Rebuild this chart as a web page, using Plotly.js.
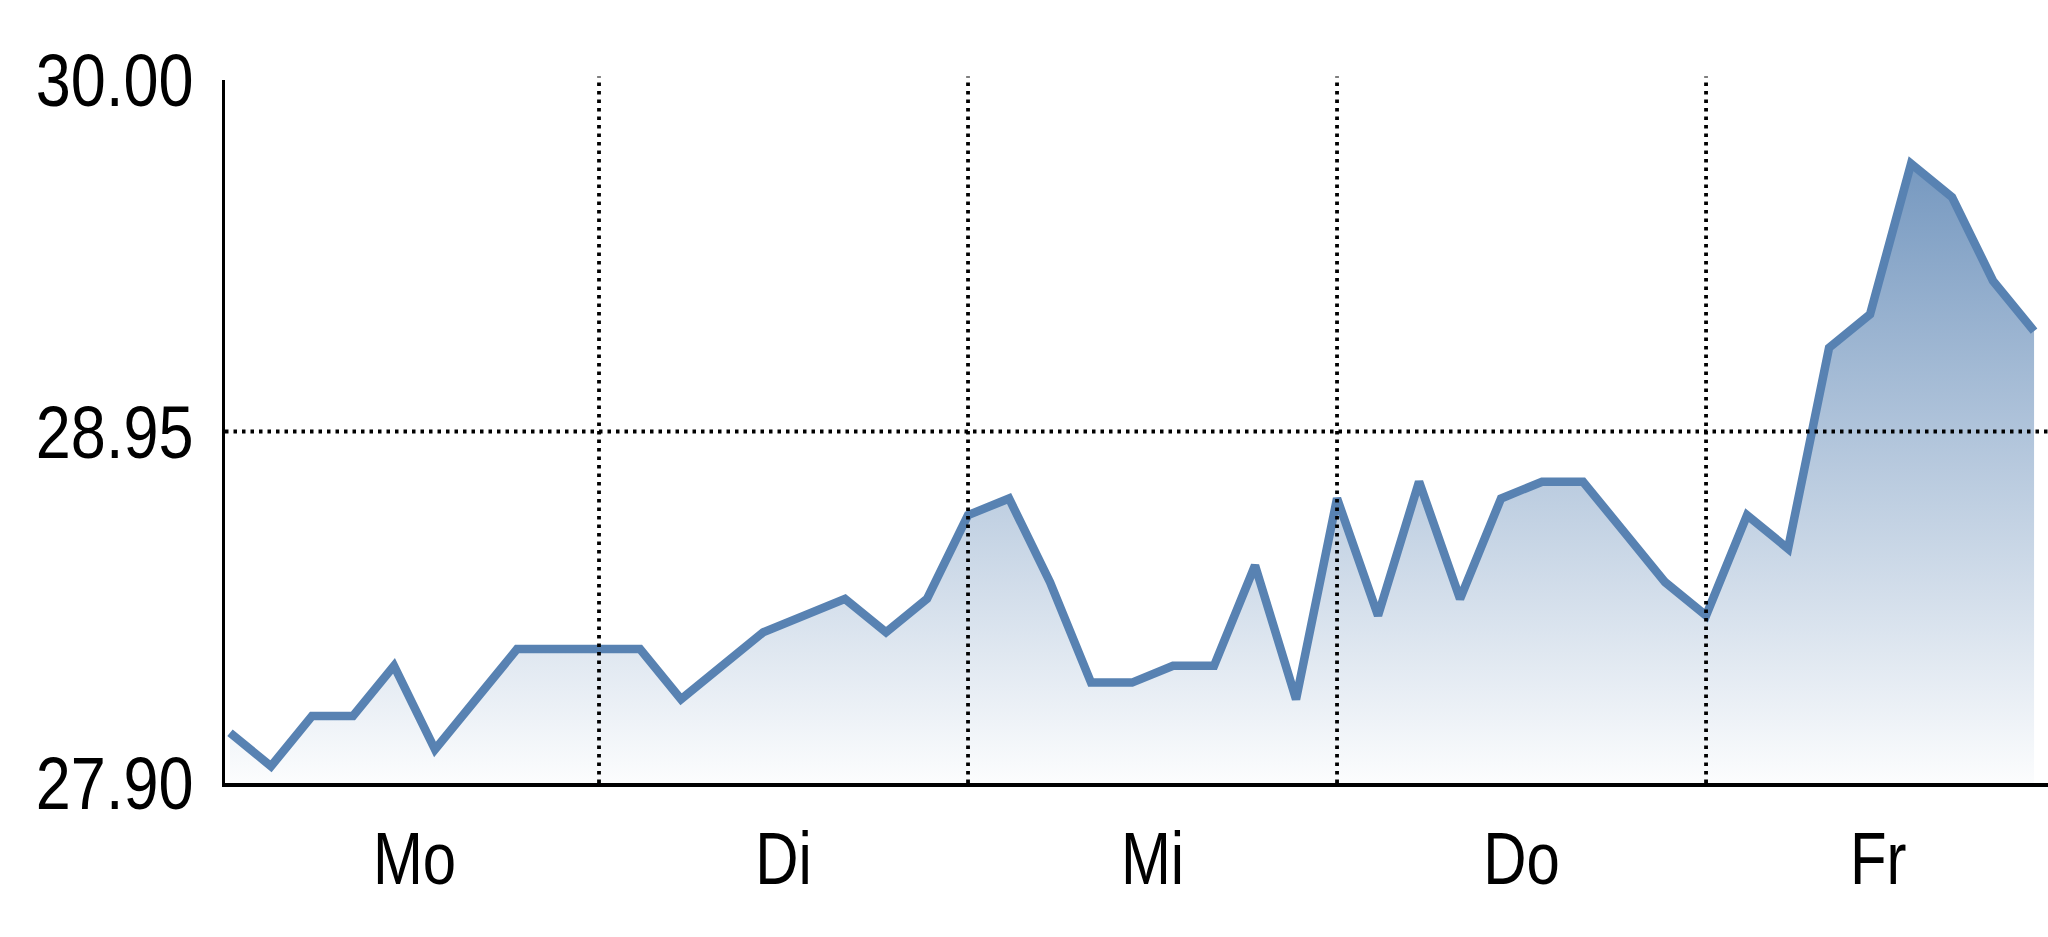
<!DOCTYPE html>
<html>
<head>
<meta charset="utf-8">
<script src="https://cdn.plot.ly/plotly-3.0.1.min.js"></script>
<style>html,body{margin:0;padding:0;background:#fff;}#chart{width:2048px;height:937px;}</style>
</head>
<body>
<div id="chart"></div>
<script>
// Price every half hour, 9 intervals per trading day (Mo..Fr)
const prices = [
  28.05, 27.95, 28.10, 28.10, 28.25, 28.00, 28.15, 28.30, 28.30,
  28.30, 28.30, 28.15, 28.25, 28.35, 28.40, 28.45, 28.35, 28.45,
  28.70, 28.75, 28.50, 28.20, 28.20, 28.25, 28.25, 28.55, 28.15,
  28.75, 28.40, 28.80, 28.45, 28.75, 28.80, 28.80, 28.65, 28.50,
  28.40, 28.70, 28.60, 29.20, 29.30, 29.75, 29.65, 29.40, 29.25
];
const steps = prices.map((_, i) => i);
const dayLabels = ["Mo", "Di", "Mi", "Do", "Fr"];
const dayLabelPos = [4.5, 13.5, 22.5, 31.5, 40.2];
const dayBoundaries = [9, 18, 27, 36];
const yTicks = [27.90, 28.95, 30.00];
const yTickText = ["27.90", "28.95", "30.00"];
const yGrid = [28.95];

const FONT = "'Liberation Sans Narrow', 'Arial Narrow', 'Liberation Sans', Arial, sans-serif";
const LINE = "rgb(88,130,178)";

const trace = {
  x: steps,
  y: prices,
  type: "scatter",
  mode: "lines",
  line: {color: LINE, width: 8.5},
  fill: "tozeroy",
  fillgradient: {
    type: "vertical",
    start: 27.90,
    stop: 29.75,
    colorscale: [[0, "rgba(88,130,178,0.02)"], [1, "rgba(88,130,178,0.82)"]]
  },
  hoverinfo: "skip"
};

const dash = "3.5px,5px";
const shapes = [];
dayBoundaries.forEach(b => shapes.push({
  type: "line", xref: "x", yref: "paper", x0: b, x1: b, y0: 0, y1: 1.005,
  line: {color: "#000", width: 3.8, dash: dash}, layer: "above"
}));
yGrid.forEach(v => shapes.push({
  type: "line", xref: "paper", yref: "y", x0: 0, x1: 1, y0: v, y1: v,
  line: {color: "#000", width: 3.8, dash: dash}, layer: "above"
}));

const layout = {
  width: 2048, height: 937,
  margin: {l: 225, r: 0, t: 80, b: 154},
  paper_bgcolor: "#fff", plot_bgcolor: "#fff",
  showlegend: false,
  font: {family: FONT, size: 74, color: "#000"},
  xaxis: {
    range: [-0.122, 44.34],
    tickmode: "array", tickvals: dayLabelPos, ticktext: dayLabels,
    showgrid: false, zeroline: false,
    showline: true, linecolor: "#000", linewidth: 3.5,
    ticks: "", ticklabelstandoff: 9,
    tickfont: {family: FONT, size: 74, color: "#000"},
    layer: "above traces", fixedrange: true
  },
  yaxis: {
    range: [27.90, 30.00],
    tickmode: "array", tickvals: yTicks, ticktext: yTickText,
    showgrid: false, zeroline: false,
    showline: true, linecolor: "#000", linewidth: 3.5,
    ticks: "", ticklabelstandoff: 13,
    tickfont: {family: FONT, size: 75, color: "#000"},
    layer: "above traces", fixedrange: true
  },
  shapes: shapes
};

Plotly.newPlot("chart", [trace], layout, {displayModeBar: false, staticPlot: true}).then(gd => {
  // condense tick label glyphs to mimic a narrow typeface
  const condense = (sel, f) => gd.querySelectorAll(sel).forEach(t => {
    const len = t.getComputedTextLength();
    t.setAttribute("textLength", (len * f).toFixed(2));
    t.setAttribute("lengthAdjust", "spacingAndGlyphs");
  });
  condense(".xtick text", 0.81);
  condense(".ytick text", 0.84);
});
</script>
</body>
</html>
